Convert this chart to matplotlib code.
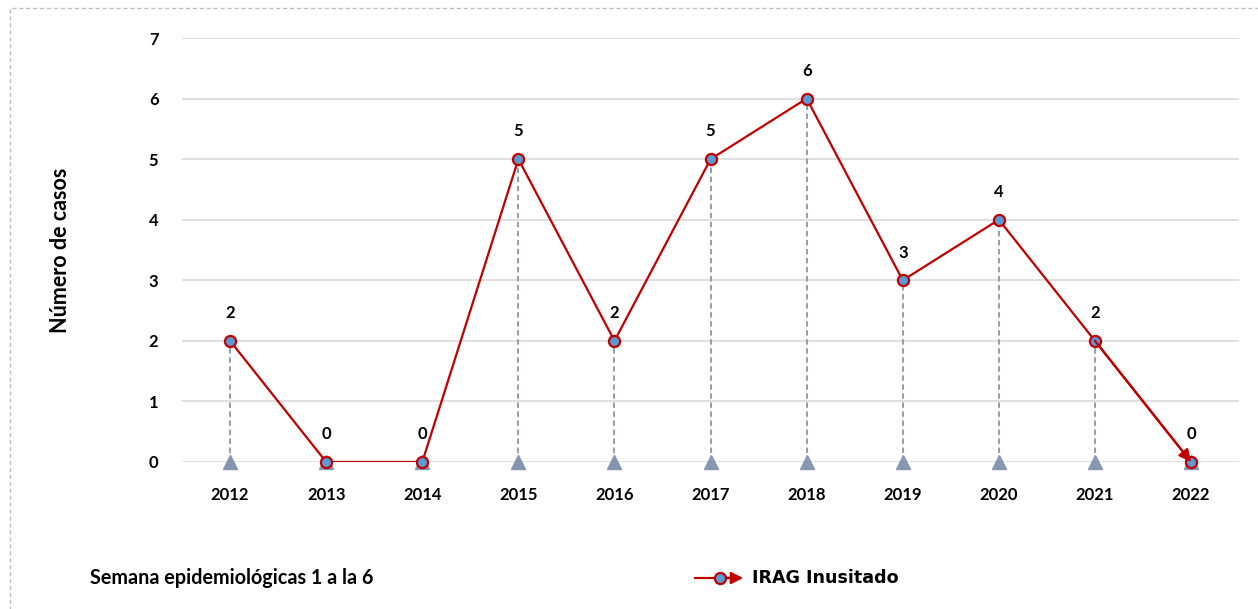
import matplotlib
matplotlib.use('Agg')
import matplotlib.pyplot as plt
from matplotlib.patches import Rectangle
from matplotlib.lines import Line2D

plt.rcParams['font.family'] = ['Lato', 'DejaVu Sans']

# data
years = ['2012', '2013', '2014', '2015', '2016', '2017', '2018', '2019', '2020', '2021', '2022']
cases = [2, 0, 0, 5, 2, 5, 6, 3, 4, 2, 0]

red = '#C00000'
blue = '#5B9BD5'
drop = '#8496B0'

fig = plt.figure(figsize=(12.58, 6.09), dpi=100)
ax = fig.add_axes([0.1447, 0.2414, 0.8403, 0.6962])

x = list(range(len(years)))

# drop lines + triangles at baseline
ax.vlines(x, 0, cases, colors=drop, linestyles=(0, (3, 2)), lw=1.3, zorder=2)
ax.plot(x, [0]*len(x), ls='none', marker='^', ms=10, color=drop, zorder=3, clip_on=False)

# main line
ax.plot(x, cases, color=red, lw=1.6, zorder=4)
ax.plot(x, cases, ls='none', marker='o', ms=8, mfc=blue, mec=red, mew=1.6, zorder=5, clip_on=False)
# arrow head at the end
ax.annotate('', xy=(x[-1], cases[-1]), xytext=(x[-2], cases[-2]),
            arrowprops=dict(arrowstyle='-|>', color=red, lw=1.6, shrinkA=0, shrinkB=0,
                            mutation_scale=18), zorder=6)

for xi, yi in zip(x, cases):
    ax.annotate(str(yi), (xi, yi), xytext=(0, 20), textcoords='offset points',
                ha='center', va='center', fontsize=12, fontweight='bold')

ax.set_xlim(-0.5, len(years) - 0.5)
ax.set_ylim(0, 7)
ax.set_yticks(range(0, 8))
ax.set_xticks(x)
ax.set_xticklabels(years)
ax.yaxis.grid(True, color='#D9D9D9', lw=1.2)
ax.set_axisbelow(True)
for s in ax.spines.values():
    s.set_visible(False)
ax.tick_params(length=0, labelsize=12)
ax.tick_params(axis='y', pad=17)
ax.tick_params(axis='x', pad=18)
for lab in ax.get_xticklabels() + ax.get_yticklabels():
    lab.set_fontweight('bold')

ax.set_ylabel('Número de casos', fontsize=15.5, fontweight='bold', labelpad=56)

# bottom texts
ly = 1 - 578/609
fig.text(90/1258, ly, 'Semana epidemiológicas 1 a la 6', fontsize=14.2,
         fontweight='bold', ha='left', va='center')
fig.text(752/1258, ly, 'IRAG Inusitado', fontsize=12.6, family='DejaVu Sans',
         fontweight='bold', ha='left', va='center')
fig.add_artist(Line2D([695/1258, 735/1258], [ly, ly], color=red, lw=1.6))
fig.add_artist(Line2D([720/1258], [ly], marker='o', ms=8, mfc=blue, mec=red, mew=1.6))
fig.patches.append(matplotlib.patches.FancyArrowPatch((725/1258, ly), (746/1258, ly),
                   transform=fig.transFigure, arrowstyle='-|>', mutation_scale=18,
                   color=red, lw=1.6))

# dashed frame
fig.patches.append(Rectangle((10/1258, -0.01), 1.0, 1 - 8/609 + 0.01, transform=fig.transFigure,
                             fill=False, ec='#BFBFBF', lw=1, ls=(0, (3, 2))))

plt.savefig('out.png', dpi=100)
